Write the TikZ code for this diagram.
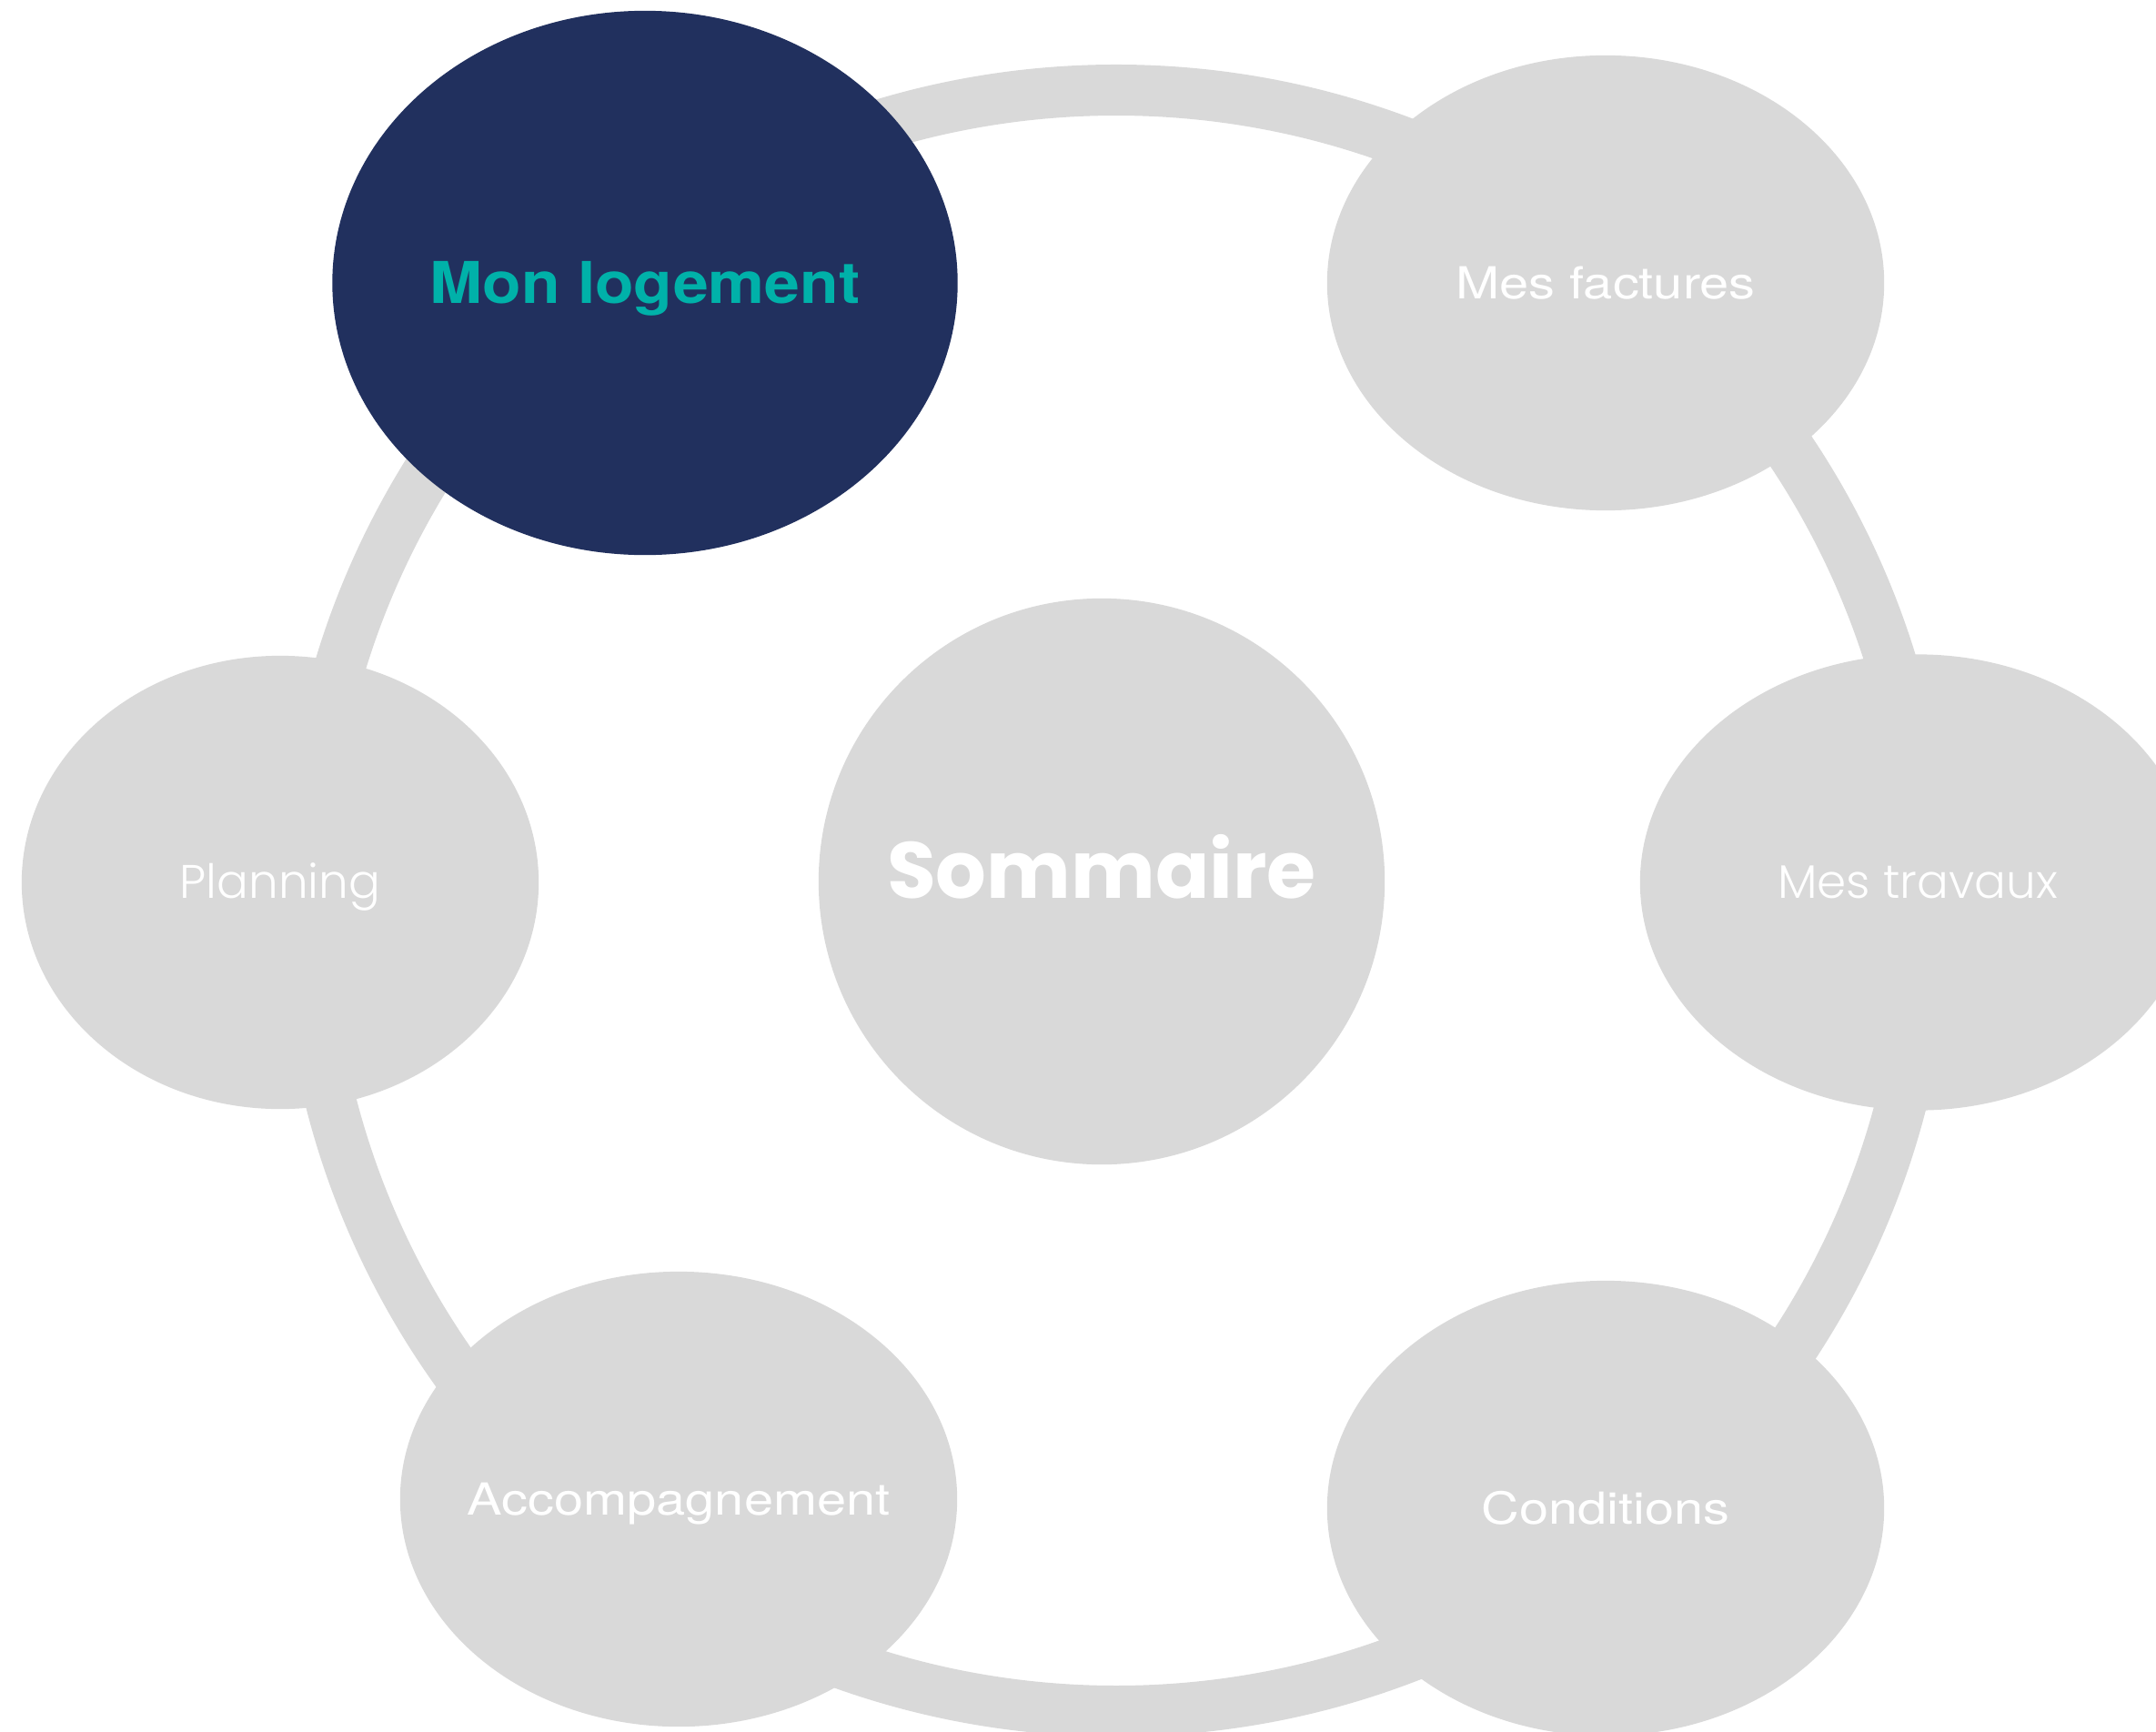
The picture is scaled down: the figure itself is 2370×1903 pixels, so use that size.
\documentclass[tikz,border=0pt]{standalone}
\usepackage{fontspec}
\setmainfont{TeX Gyre Heros}
\newfontfamily\widesans{TeX Gyre Heros}[FakeStretch=1.19]
\newfontfamily\widebold{TeX Gyre Heros Bold}[FakeStretch=1.1]
\newfontfamily\popfont{Poppins}
\newfontfamily\poplight{Poppins Light}
\usepackage{xcolor}
\usetikzlibrary{shapes.geometric,positioning}
\definecolor{navy}{HTML}{21305E}
\definecolor{tealtxt}{HTML}{00B1A9}
\definecolor{bubblegray}{HTML}{D9D9D9}

\tikzset{
  bubble/.style={ellipse, fill=bubblegray, inner xsep=-1.5cm, inner ysep=0pt, minimum width=6.12cm, minimum height=5.0cm,
    text=white, font=\widesans\fontsize{13.8}{16}\selectfont, text height=0.345cm, text depth=0pt},
  popbubble/.style={bubble, font=\poplight\fontsize{14.7}{16}\selectfont},
  ring/.style={draw=bubblegray, line width=0.56cm}
}

\begin{document}
\begin{tikzpicture}[x=0.01cm, y=-0.01cm]
    \useasboundingbox (0,0) rectangle (2370,1903);
    \clip (0,0) rectangle (2370,1903);
    % ring behind the bubbles
    \coordinate (ringc) at (1227,990);
    \draw[ring] (ringc) circle (891);
    % centre
    \node[circle, fill=bubblegray, minimum size=6.22cm, inner sep=0pt, text=white,
      font=\popfont\bfseries\fontsize{24.9}{28}\selectfont, text height=0.63cm, text depth=0.256cm]
      (sommaire) at (1211,969) {Sommaire};
    % bubbles round the ring
    \node[bubble, fill=navy, minimum width=6.87cm, minimum height=5.98cm, text=tealtxt,
      font=\widebold\fontsize{18}{20}\selectfont, text height=0.455cm] (logement) at (709,311) {Mon logement};
    \node[bubble] (factures) at (1765,311) {Mes factures};
    \node[popbubble, minimum width=6.1cm, minimum height=5.01cm] (travaux) at (2108,970) {Mes travaux};
    \node[bubble] (conditions) at (1765,1658) {Conditions};
    \node[bubble] (accomp) at (746,1648) {Accompagnement};
    \node[popbubble, minimum width=5.68cm, minimum height=4.98cm] (planning) at (308,970) {Planning};
\end{tikzpicture}
\end{document}
